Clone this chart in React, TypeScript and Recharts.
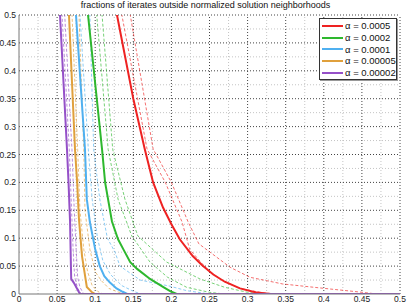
import { LineChart, Line, XAxis, YAxis, ReferenceLine } from 'recharts';

// alpha values and colours, one per curve family
const alphas = ['0.0005', '0.0002', '0.0001', '0.00005', '0.00002'];
const colors = ['#ee2222', '#2eb82e', '#4fb0f0', '#e0a03c', '#9550c8'];

const ticks = [0, 0.05, 0.1, 0.15, 0.2, 0.25, 0.3, 0.35, 0.4, 0.45, 0.5];
const minorTicks = [0.025, 0.075, 0.125, 0.175, 0.225, 0.275, 0.325, 0.375, 0.425, 0.475];

// [radius, fraction] pairs
const redMid = [[0.126, 0.52], [0.1286, 0.5], [0.15, 0.35], [0.165, 0.26], [0.176, 0.2], [0.189, 0.155], [0.2, 0.125], [0.211, 0.098], [0.228, 0.068], [0.24, 0.052], [0.255, 0.035], [0.27, 0.022], [0.29, 0.01], [0.31, 0.003], [0.33, 0], [0.5, 0]];
const redLo = [[0.133, 0.52], [0.135, 0.5], [0.168, 0.26], [0.192, 0.2], [0.214, 0.129], [0.224, 0.08], [0.24, 0.055], [0.25, 0.04], [0.27, 0.022], [0.29, 0.01], [0.32, 0.002], [0.34, 0], [0.5, 0]];
const redHi = [[0.144, 0.52], [0.146, 0.5], [0.176, 0.26], [0.2, 0.2], [0.222, 0.129], [0.236, 0.09], [0.277, 0.048], [0.303, 0.03], [0.346, 0.018], [0.408, 0.009], [0.444, 0.004], [0.47, 0], [0.5, 0]];

const greenMid = [[0.0885, 0.52], [0.0906, 0.5], [0.109, 0.259], [0.113, 0.2], [0.122, 0.13], [0.13, 0.098], [0.137, 0.08], [0.146, 0.057], [0.155, 0.045], [0.172, 0.027], [0.19, 0.012], [0.2, 0.004], [0.207, 0], [0.5, 0]];
const greenLo = [[0.1, 0.52], [0.102, 0.5], [0.117, 0.259], [0.13, 0.17], [0.148, 0.104], [0.172, 0.057], [0.195, 0.03], [0.22, 0.012], [0.25, 0.003], [0.27, 0], [0.5, 0]];
const greenHi = [[0.107, 0.52], [0.109, 0.5], [0.123, 0.259], [0.139, 0.17], [0.156, 0.104], [0.194, 0.057], [0.2375, 0.027], [0.27, 0.012], [0.3, 0.003], [0.32, 0], [0.5, 0]];

const blueMid = [[0.073, 0.52], [0.0748, 0.5], [0.0866, 0.259], [0.089, 0.17], [0.093, 0.129], [0.1, 0.08], [0.106, 0.05], [0.112, 0.032], [0.119, 0.021], [0.128, 0.01], [0.136, 0.004], [0.142, 0], [0.5, 0]];
const blueLo = [[0.078, 0.52], [0.08, 0.5], [0.091, 0.259], [0.096, 0.17], [0.103, 0.1], [0.11, 0.06], [0.12, 0.035], [0.135, 0.015], [0.15, 0.005], [0.16, 0], [0.5, 0]];
const blueHi = [[0.091, 0.52], [0.093, 0.5], [0.098, 0.259], [0.106, 0.17], [0.116, 0.1], [0.126, 0.075], [0.1325, 0.05], [0.159, 0.025], [0.198, 0.014], [0.22, 0.006], [0.25, 0], [0.5, 0]];

const orangeMid = [[0.0645, 0.52], [0.0656, 0.5], [0.0735, 0.259], [0.0763, 0.2], [0.0787, 0.134], [0.0827, 0.068], [0.089, 0.0125], [0.095, 0.004], [0.1, 0], [0.5, 0]];
const orangeLo = [[0.0685, 0.52], [0.0696, 0.5], [0.077, 0.259], [0.08, 0.15], [0.085, 0.08], [0.09, 0.04], [0.096, 0.015], [0.104, 0.004], [0.11, 0], [0.5, 0]];
const orangeHi = [[0.0775, 0.52], [0.0787, 0.5], [0.085, 0.259], [0.0866, 0.15], [0.093, 0.08], [0.1, 0.04], [0.108, 0.024], [0.118, 0.01], [0.129, 0.004], [0.14, 0], [0.5, 0]];

const purpleMid = [[0.053, 0.52], [0.0538, 0.5], [0.063, 0.259], [0.065, 0.2], [0.067, 0.13], [0.068, 0.06], [0.0685, 0.027], [0.072, 0.02], [0.08, 0], [0.5, 0]];
const purpleLo = [[0.0555, 0.52], [0.0565, 0.5], [0.066, 0.259], [0.069, 0.15], [0.071, 0.08], [0.073, 0.03], [0.077, 0.01], [0.082, 0], [0.5, 0]];
const purpleHi = [[0.059, 0.52], [0.06, 0.5], [0.0695, 0.259], [0.0725, 0.15], [0.075, 0.08], [0.077, 0.03], [0.08, 0.012], [0.085, 0], [0.5, 0]];

const mids = [redMid, greenMid, blueMid, orangeMid, purpleMid];
const bands = [[redLo, redHi], [greenLo, greenHi], [blueLo, blueHi], [orangeLo, orangeHi], [purpleLo, purpleHi]];

const toRows = (pts: number[][]) => pts.map(([x, y]) => ({ x, y }));
const fmt = (v: number) => String(Number(v.toFixed(3)));

const FONT = '"Liberation Sans", Arial, sans-serif';

export default function App() {
  return (
    <div style={{ position: 'fixed', left: 0, top: 0, width: 407, height: 305, background: '#fff', fontFamily: FONT }}>
      <div style={{ position: 'absolute', left: 0, width: 411, top: 0, textAlign: 'center', fontSize: 9, lineHeight: '11px', color: '#111', whiteSpace: 'nowrap' }}>
        fractions of iterates outside normalized solution neighborhoods
      </div>
      <LineChart width={407} height={305} margin={{ top: 15, right: 7, left: 0, bottom: 0 }}>
        <XAxis
          dataKey="x"
          type="number"
          domain={[0, 0.5]}
          ticks={ticks}
          allowDataOverflow
          height={11}
          tickLine={false}
          tickSize={0}
          tickMargin={2}
          tickFormatter={fmt}
          stroke="#777"
          tick={{ fontSize: 8.5, fill: '#222', fontFamily: FONT }}
        />
        <YAxis
          type="number"
          domain={[0, 0.5]}
          ticks={ticks}
          allowDataOverflow
          width={19}
          tickLine={false}
          tickSize={0}
          tickMargin={3}
          tickFormatter={fmt}
          stroke="#777"
          tick={{ fontSize: 8.5, fill: '#222', fontFamily: FONT }}
        />
        {minorTicks.map((v) => (
          <ReferenceLine key={'mx' + v} x={v} stroke="#c4c4c4" strokeDasharray="1 2" />
        ))}
        {minorTicks.map((v) => (
          <ReferenceLine key={'my' + v} y={v} stroke="#c4c4c4" strokeDasharray="1 2" />
        ))}
        {ticks.slice(1).map((v) => (
          <ReferenceLine key={'x' + v} x={v} stroke="#444" strokeDasharray="1 2" />
        ))}
        {ticks.slice(1).map((v) => (
          <ReferenceLine key={'y' + v} y={v} stroke="#444" strokeDasharray="1 2" />
        ))}
        {bands.map((pair, i) =>
          pair.map((pts, j) => (
            <Line
              key={`band-${i}-${j}`}
              data={toRows(pts)}
              dataKey="y"
              type="linear"
              stroke={colors[i]}
              strokeOpacity={0.65}
              strokeWidth={1}
              strokeDasharray="3 2"
              dot={false}
              isAnimationActive={false}
            />
          ))
        )}
        {mids.map((pts, i) => (
          <Line
            key={`mid-${i}`}
            data={toRows(pts)}
            dataKey="y"
            type="linear"
            stroke={colors[i]}
            strokeWidth={2}
            dot={false}
            isAnimationActive={false}
          />
        ))}
      </LineChart>
      <div
        style={{
          position: 'absolute',
          left: 319,
          top: 18,
          width: 78,
          height: 62,
          boxSizing: 'border-box',
          background: '#fff',
          border: '1px solid #333',
          boxShadow: '1px 1px 0 #999',
          fontSize: 9.5,
          color: '#111',
          paddingTop: 1,
          whiteSpace: 'nowrap',
        }}
      >
        {alphas.map((a, i) => (
          <div key={a} style={{ display: 'flex', alignItems: 'center', height: 11.8, lineHeight: '11.8px' }}>
            <span style={{ display: 'inline-block', flex: 'none', width: 21, height: 2, marginLeft: 2, marginRight: 2, background: colors[i] }} />
            <span>α = {a}</span>
          </div>
        ))}
      </div>
    </div>
  );
}
